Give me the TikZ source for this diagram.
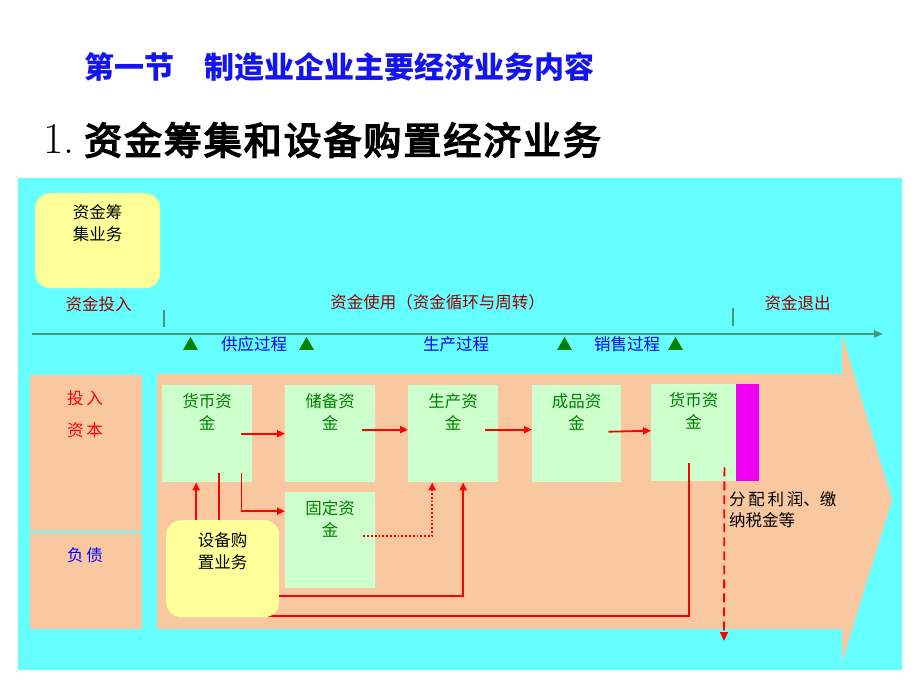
\documentclass[tikz,border=0pt]{standalone}
\usepackage{fontspec}
\newfontfamily\cjk{Noto Sans CJK SC}
\newfontfamily\cjkheavy[FakeBold=4,LetterSpace=5]{Noto Sans CJK SC}
\usetikzlibrary{arrows.meta,shapes.geometric,calc}
\definecolor{cyanbg}{RGB}{102,255,255}
\definecolor{peach}{RGB}{250,200,160}
\definecolor{lgreen}{RGB}{204,255,204}
\definecolor{lyellow}{RGB}{255,255,153}
\definecolor{mag}{RGB}{238,0,238}
\definecolor{dred}{RGB}{153,0,0}
\definecolor{dgreen}{RGB}{0,128,0}
\definecolor{lineg}{RGB}{72,150,115}
\definecolor{tblue}{RGB}{0,0,255}
\definecolor{ttblue}{RGB}{20,20,240}
\begin{document}
\begin{tikzpicture}[x=1pt,y=-1pt,
 gbox/.style={fill=lgreen, draw=none, minimum width=90pt, minimum height=97pt, anchor=north west, inner sep=0pt},
 gtext/.style={font=\cjk\fontsize{16.5}{22}\selectfont, text=dgreen, align=center, anchor=north, inner sep=0pt},
 ybox/.style={fill=lyellow, draw=none, rounded corners=15pt, anchor=north west, inner sep=0pt},
 ytext/.style={font=\cjk\fontsize{16.5}{22}\selectfont, text=black, align=center, anchor=north, inner sep=0pt},
 pbox/.style={fill=peach, draw=none, anchor=north west, inner sep=0pt, minimum width=112pt},
 lab/.style={font=\cjk\fontsize{16.5}{20}\selectfont, inner sep=0pt},
 tri/.style={regular polygon, regular polygon sides=3, fill=dgreen, minimum size=17pt, inner sep=0pt},
 ra/.style={draw=red, line width=1.8pt, -{Triangle[length=8pt,width=7pt]}},
 rl/.style={draw=red, line width=1.8pt},
 rdot/.style={draw=red, line width=1.8pt, dotted, -{Triangle[length=8pt,width=7pt]}},
 rdash/.style={draw=red, line width=1.8pt, dash pattern=on 9pt off 5pt, -{Triangle[length=9pt,width=8pt]}},
 mline/.style={draw=lineg, line width=2.2pt, -{Triangle[length=9pt,width=7pt]}},
 tick/.style={draw=lineg, line width=2.8pt}
]
\useasboundingbox (0,0) rectangle (920,690);
\fill[white] (0,0) rectangle (920,690);

% titles
\node[font=\cjk\bfseries\fontsize{30}{34}\selectfont, text=ttblue, anchor=west, inner sep=0pt] (title) at (84,67) {第一节　制造业企业主要经济业务内容};
\node[font=\fontsize{44}{48}\selectfont, anchor=west, inner sep=0pt] (num) at (43,139) {1.};
\node[font=\cjkheavy\fontsize{38}{42}\selectfont, anchor=west, inner sep=0pt] (sub) at (84,140) {资金筹集和设备购置经济业务};

% background
\fill[cyanbg] (18,178) rectangle (902,670);

% yellow top box
\node[ybox, minimum width=125pt, minimum height=95pt] (y1) at (35,193) {};
\node[ytext] (y1t) at ([yshift=-11pt]y1.north) {资金筹\\集业务};

% labels
\node[lab, text=dred] (l1) at (98.5,304) {资金投入};
\node[lab, text=dred] (l2) at (437.5,302) {资金使用（资金循环与周转）};
\node[lab, text=dred] (l3) at (797.5,303) {资金退出};

% left boxes
\node[pbox, minimum height=156pt] (lb1) at (30,375) {};
\node[pbox, minimum height=96pt] (lb2) at (30,533) {};
\node[lab, text=red] (lb1a) at (85,398) {投\,入};
\node[lab, text=red] (lb1b) at (85,430) {资\,本};
\node[lab, text=tblue] (lb2a) at (85,555) {负\,债};

% big arrow
\fill[peach] (157,374) -- (842,374) -- (842,335) -- (892,500) -- (842,662) -- (842,629) -- (157,629) -- cycle;

% main line and ticks
\coordinate (ls) at (32,334);
\coordinate (le) at (883,334);
\draw[mline] (ls) -- (le);
\coordinate (t1a) at (164,310); \coordinate (t1b) at (164,327);
\coordinate (t2a) at (733,308); \coordinate (t2b) at (733,326);
\draw[tick] (t1a) -- (t1b);
\draw[tick] (t2a) -- (t2b);

% triangles and process labels
\node[tri] (tr1) at (190.5,345.5) {};
\node[tri] (tr2) at (306.5,345.5) {};
\node[tri] (tr3) at (564.5,345.5) {};
\node[tri] (tr4) at (675.5,345.5) {};
\node[lab, text=tblue] (p1) at (254,344) {供应过程};
\node[lab, text=tblue] (p2) at (456,344) {生产过程};
\node[lab, text=tblue] (p3) at (627,344) {销售过程};

% green boxes
\node[gbox] (b1) at (162,385) {};
\node[gbox] (b2) at (285,385) {};
\node[gbox, minimum height=96pt] (b4) at (285,492) {};
\node[gbox] (b3) at (408,385) {};
\node[gbox, minimum width=89pt] (bf) at (532,385) {};
\node[gbox, minimum width=85pt] (b5) at (651,384) {};
\node[fill=mag, draw=none, anchor=north west, inner sep=0pt, minimum width=23pt, minimum height=97pt] (mg) at (736,384) {};
\node[gtext] (b1t) at ([yshift=-8pt]b1.north) {货币资\\金};
\node[gtext] (b2t) at ([yshift=-8pt]b2.north) {储备资\\金};
\node[gtext] (b4t) at ([yshift=-8pt]b4.north) {固定资\\金};
\node[gtext] (b3t) at ([yshift=-8pt]b3.north) {生产资\\金};
\node[gtext] (bft) at ([yshift=-8pt]bf.north) {成品资\\金};
\node[gtext] (b5t) at ([yshift=-8pt]b5.north) {货币资\\金};

% line from money2 back to equipment box (behind yellow box)
\node[inner sep=0pt, minimum size=0pt] (y2ref) at (222.5,616) {};
\draw[rl] ([xshift=-4.5pt,yshift=18pt]b5.south) |- (y2ref.center);

% yellow equipment box
\node[ybox, minimum width=113pt, minimum height=97pt] (y2) at (166,520) {};
\node[ytext] (y2t) at ([yshift=-12pt]y2.north) {设备购\\置业务};

% flow arrows
\draw[ra] ([xshift=-11pt]b1.east) -- (b2.west);
\draw[ra] ([xshift=-13pt,yshift=4pt]b2.east) -- ([yshift=4pt]b3.west);
\draw[ra] ([xshift=-13pt,yshift=4pt]b3.east) -- ([yshift=4pt]bf.west);
\draw[ra] ([xshift=-13pt,yshift=2pt]bf.east) -- ([yshift=2pt]b5.west);
\draw[ra] ([xshift=-11pt,yshift=9pt]b1.south east) |- ([yshift=29pt]b4.west);
\draw[ra] ([xshift=-11pt]b1.south |- y2.north) -- ([xshift=-11pt]b1.south);
\draw[rl] ([xshift=12pt,yshift=9pt]b1.south) -- ([xshift=12pt]b1.south |- y2.north);
\draw[rdot] ([xshift=-12pt,yshift=4pt]b4.east) -| ([xshift=-21pt]b3.south);
\draw[ra] ([yshift=-27.5pt]y2.east) -| ([xshift=10pt]b3.south);
\coordinate (dend) at (724,641);
\draw[rdash] ([xshift=-12pt,yshift=14pt]b5.south east) -- (dend);

% distribution text
\node[font=\cjk\fontsize{16.5}{21}\selectfont, align=left, anchor=north west, inner sep=0pt] (dist) at (729,491) {分\,配\,利\,润、缴\\纳税金等};
\end{tikzpicture}
\end{document}
